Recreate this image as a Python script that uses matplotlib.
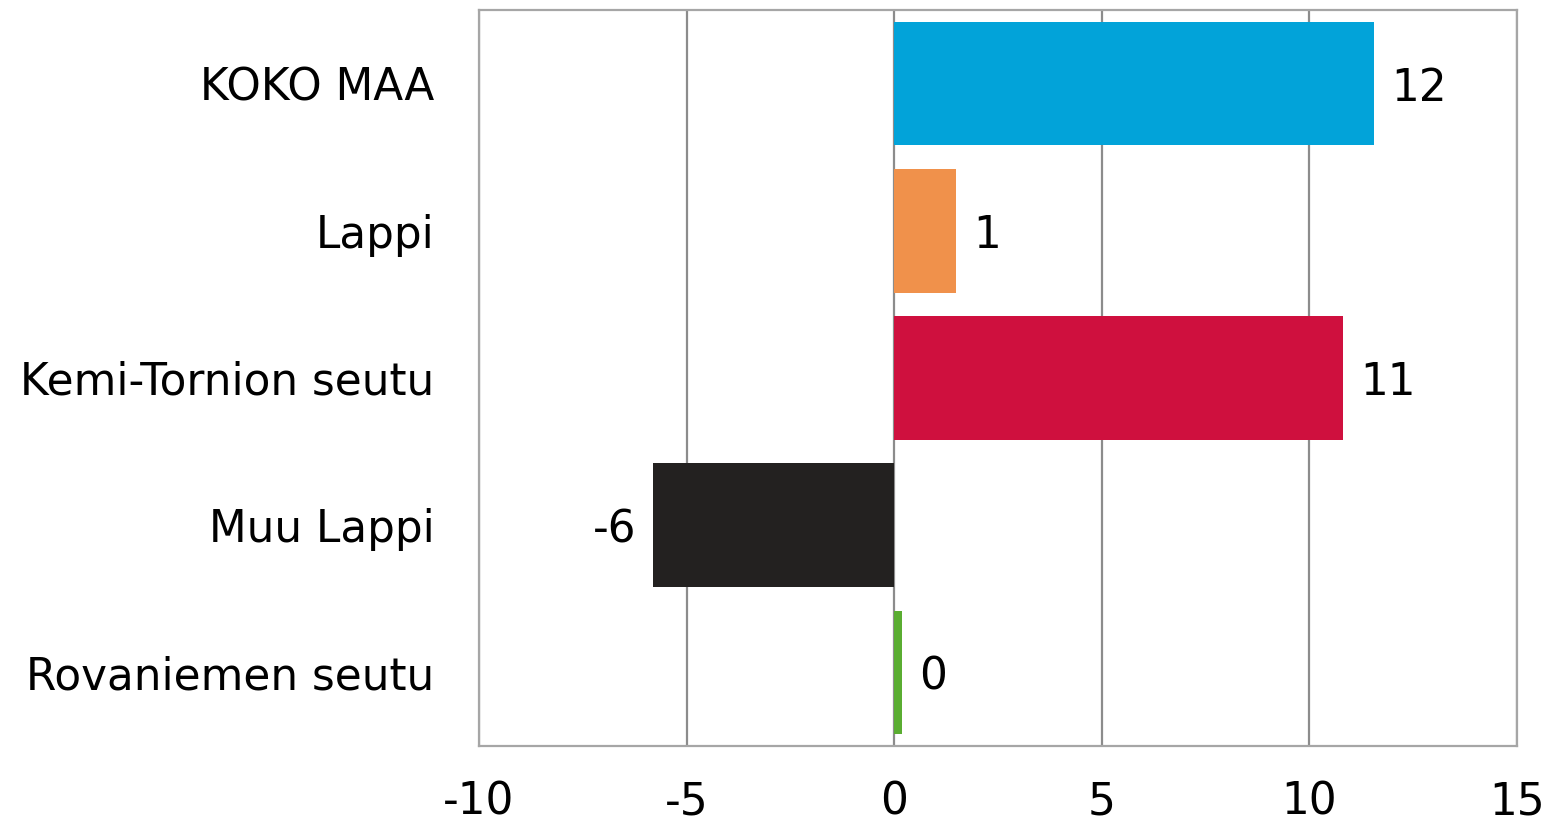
import matplotlib
matplotlib.use("Agg")
import matplotlib.pyplot as plt

# data
categories = ["KOKO MAA", "Lappi", "Kemi-Tornion seutu", "Muu Lappi", "Rovaniemen seutu"]
values = [11.55, 1.49, 10.82, -5.81, 0.19]
colors = ["#02A3D9", "#F0914B", "#CF103E", "#232120", "#5AAD31"]
xticks = [-10, -5, 0, 5, 10, 15]

plt.rcParams['font.family'] = ['DejaVu Sans']
fs = 31.5

fig = plt.figure(figsize=(15.45, 8.24), dpi=100)
ax = fig.add_axes([0.310, 0.0947, 0.6719, 0.8932])

pos = list(range(len(categories)))
ax.barh(pos, values, height=0.84, color=colors, zorder=3)

# value labels
for p, v in zip(pos, values):
    if v >= 0:
        ax.annotate(f"{v:.0f}", (v, p), xytext=(17, 0), textcoords="offset pixels",
                    ha="left", va="center_baseline", fontsize=fs, color="#000000")
    else:
        ax.annotate(f"{v:.0f}", (v, p), xytext=(-17, 0), textcoords="offset pixels",
                    ha="right", va="center_baseline", fontsize=fs, color="#000000")

ax.set_xlim(-10, 15)
ax.set_ylim(len(categories) - 0.5, -0.5)
ax.set_xticks(xticks)
ax.set_xticklabels([str(t) for t in xticks])
ax.set_yticks(pos)
ax.set_yticklabels(categories, va="center_baseline")
ax.tick_params(axis="both", length=0, labelsize=fs, colors="#000000")
ax.tick_params(axis="x", pad=25)
ax.tick_params(axis="y", pad=32)

ax.grid(axis="x", color="#8C8C8C", linewidth=1.6, zorder=1)
for s in ax.spines.values():
    s.set_color("#A6A6A6")
    s.set_linewidth(1.6)

fig.savefig("out.png", dpi=100, facecolor="white")
